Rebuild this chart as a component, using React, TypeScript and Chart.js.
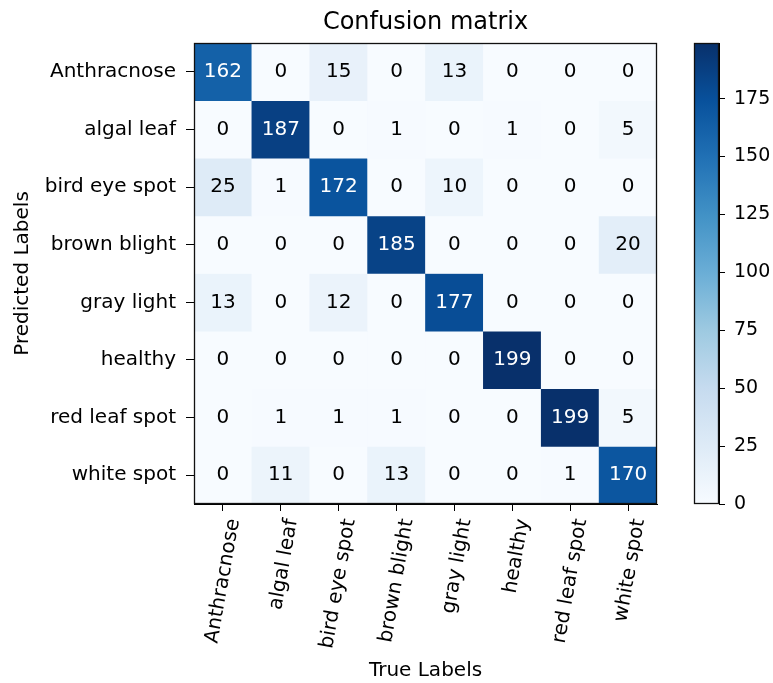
import React, { useEffect, useRef } from "react";
import { Chart, registerables } from "chart.js";

Chart.register(...registerables);

// ---------- data ----------
const trueLabels = [
  "Anthracnose",
  "algal leaf",
  "bird eye spot",
  "brown blight",
  "gray light",
  "healthy",
  "red leaf spot",
  "white spot",
];
const predictedLabels = [
  "Anthracnose",
  "algal leaf",
  "bird eye spot",
  "brown blight",
  "gray light",
  "healthy",
  "red leaf spot",
  "white spot",
];
const rowAnthracnose = [162, 0, 15, 0, 13, 0, 0, 0];
const rowAlgalLeaf = [0, 187, 0, 1, 0, 1, 0, 5];
const rowBirdEyeSpot = [25, 1, 172, 0, 10, 0, 0, 0];
const rowBrownBlight = [0, 0, 0, 185, 0, 0, 0, 20];
const rowGrayLight = [13, 0, 12, 0, 177, 0, 0, 0];
const rowHealthy = [0, 0, 0, 0, 0, 199, 0, 0];
const rowRedLeafSpot = [0, 1, 1, 1, 0, 0, 199, 5];
const rowWhiteSpot = [0, 11, 0, 13, 0, 0, 1, 170];
const matrixRows = [
  rowAnthracnose,
  rowAlgalLeaf,
  rowBirdEyeSpot,
  rowBrownBlight,
  rowGrayLight,
  rowHealthy,
  rowRedLeafSpot,
  rowWhiteSpot,
];
const colorbarMin = 0;
const colorbarMax = 199;
const colorbarTicks = [0, 25, 50, 75, 100, 125, 150, 175];

// ---------- styling ----------
const FONT = "'DejaVu Sans', sans-serif";
const BLUES: [number, number, number][] = [
  [247, 251, 255],
  [222, 235, 247],
  [198, 219, 239],
  [158, 202, 225],
  [107, 174, 214],
  [66, 146, 198],
  [33, 113, 181],
  [8, 81, 156],
  [8, 48, 107],
];

function blues(t: number): string {
  const tt = Math.max(0, Math.min(1, t));
  const pos = tt * (BLUES.length - 1);
  const i = Math.min(Math.floor(pos), BLUES.length - 2);
  const f = pos - i;
  const a = BLUES[i];
  const b = BLUES[i + 1];
  const c = a.map((v, k) => Math.round(v + (b[k] - v) * f));
  return `rgb(${c[0]},${c[1]},${c[2]})`;
}

const framePlugin = {
  id: "frame",
  afterDraw(chart: any) {
    const { ctx, chartArea } = chart;
    ctx.save();
    ctx.strokeStyle = "#111";
    ctx.lineWidth = 1.3;
    ctx.strokeRect(
      Math.round(chartArea.left) + 0.5,
      Math.round(chartArea.top) + 0.5,
      Math.round(chartArea.right - chartArea.left) - 1,
      Math.round(chartArea.bottom - chartArea.top) - 1
    );
    ctx.restore();
  },
};

const cellTextPlugin = {
  id: "cellText",
  afterDatasetsDraw(chart: any) {
    const ctx = chart.ctx;
    ctx.save();
    ctx.font = `20px ${FONT}`;
    ctx.textAlign = "center";
    ctx.textBaseline = "middle";
    chart.data.datasets.forEach((_ds: any, r: number) => {
      const meta = chart.getDatasetMeta(r);
      meta.data.forEach((el: any, c: number) => {
        const v = matrixRows[r][c];
        const { x, y, base } = el.getProps(["x", "y", "base"], true);
        ctx.fillStyle = v > colorbarMax / 2 ? "#ffffff" : "#000000";
        ctx.fillText(String(v), x, (y + base) / 2);
      });
    });
    ctx.restore();
  },
};

export default function App() {
  const mainRef = useRef<HTMLCanvasElement>(null);
  const barRef = useRef<HTMLCanvasElement>(null);

  useEffect(() => {
    const datasets = matrixRows.map((row, r) => ({
      label: predictedLabels[r],
      data: row.map(() => [r, r + 1]),
      backgroundColor: row.map((v) => blues((v - colorbarMin) / (colorbarMax - colorbarMin))),
      borderWidth: 0,
      barPercentage: 1,
      categoryPercentage: 1,
      grouped: false,
    }));

    const main = new Chart(mainRef.current as HTMLCanvasElement, {
      type: "bar",
      data: { labels: trueLabels, datasets: datasets as any },
      options: {
        responsive: false,
        animation: false,
        events: [],
        layout: { padding: { left: 0, right: 116, top: 0, bottom: 0 } },
        plugins: {
          legend: { display: false },
          tooltip: { enabled: false },
          title: { display: false },
        },
        scales: {
          x: {
            type: "category",
            position: "bottom",
            offset: true,
            grid: {
              display: true,
              drawOnChartArea: false,
              drawTicks: true,
              tickLength: 7,
              color: "#000",
              offset: false,
            },
            border: { display: true, color: "#000", width: 1 },
            ticks: {
              color: "#000",
              font: { family: FONT, size: 20 },
              maxRotation: 80,
              minRotation: 80,
              padding: 6,
              labelOffset: 11,
              autoSkip: false,
            },
            title: {
              display: true,
              text: "True Labels",
              color: "#000",
              font: { family: FONT, size: 20 },
              padding: { top: 0, bottom: 0 },
            },
            afterFit: (s: any) => {
              s.height = 179;
            },
          },
          x2: {
            type: "category",
            position: "top",
            labels: trueLabels,
            grid: { display: false },
            border: { display: false },
            ticks: { display: false },
            title: {
              display: true,
              text: "Confusion matrix",
              color: "#000",
              font: { family: FONT, size: 24 },
              padding: { top: 8, bottom: 0 },
            },
            afterFit: (s: any) => {
              s.height = 43;
            },
          },
          y: {
            type: "linear",
            position: "left",
            min: 0,
            max: predictedLabels.length,
            reverse: true,
            afterBuildTicks: (s: any) => {
              s.ticks = predictedLabels.map((_l, i) => ({ value: i + 0.5 }));
            },
            grid: {
              display: true,
              drawOnChartArea: false,
              drawTicks: true,
              tickLength: 8,
              color: "#000",
            },
            border: { display: true, color: "#000", width: 1 },
            ticks: {
              color: "#000",
              font: { family: FONT, size: 20 },
              padding: 10,
              autoSkip: false,
              callback: (_v: any, i: number) => predictedLabels[i],
            },
            title: {
              display: true,
              text: "Predicted Labels",
              color: "#000",
              font: { family: FONT, size: 20 },
              padding: { top: 11, bottom: 0 },
            },
            afterFit: (s: any) => {
              s.width = 194;
            },
          },
        },
      } as any,
      plugins: [cellTextPlugin, framePlugin],
    });

    const colorbar = new Chart(barRef.current as HTMLCanvasElement, {
      type: "bar",
      data: {
        labels: [""],
        datasets: [
          {
            data: [[colorbarMin, colorbarMax]] as any,
            backgroundColor: (c: any) => {
              const chart = c.chart;
              const y = chart.scales && chart.scales.y;
              if (!chart.chartArea || !y) return blues(0.5);
              const g = chart.ctx.createLinearGradient(
                0,
                y.getPixelForValue(colorbarMin),
                0,
                y.getPixelForValue(colorbarMax)
              );
              BLUES.forEach((col, i) => {
                g.addColorStop(i / (BLUES.length - 1), `rgb(${col[0]},${col[1]},${col[2]})`);
              });
              return g;
            },
            borderWidth: 0,
            barPercentage: 1,
            categoryPercentage: 1,
          },
        ],
      },
      options: {
        responsive: false,
        animation: false,
        events: [],
        layout: { padding: { left: 14, right: 0, top: 43, bottom: 179 } },
        plugins: { legend: { display: false }, tooltip: { enabled: false } },
        scales: {
          x: { display: false },
          y: {
            position: "right",
            min: colorbarMin,
            max: colorbarMax,
            afterBuildTicks: (s: any) => {
              s.ticks = colorbarTicks.map((v) => ({ value: v }));
            },
            grid: {
              display: true,
              drawOnChartArea: false,
              drawTicks: true,
              tickLength: 6,
              color: "#000",
            },
            border: { display: true, color: "#000", width: 1 },
            ticks: {
              color: "#000",
              font: { family: FONT, size: 19 },
              padding: 9,
            },
            afterFit: (s: any) => {
              s.width = 54;
            },
          },
        },
      } as any,
      plugins: [framePlugin],
    });

    return () => {
      main.destroy();
      colorbar.destroy();
    };
  }, []);

  return (
    <div
      style={{
        position: "absolute",
        left: 0,
        top: 0,
        width: 773,
        height: 683,
        background: "#ffffff",
        overflow: "hidden",
      }}
    >
      <canvas
        ref={mainRef}
        width={773}
        height={683}
        style={{ position: "absolute", left: 0, top: 0, width: 773, height: 683 }}
      />
      <canvas
        ref={barRef}
        width={93}
        height={683}
        style={{ position: "absolute", left: 680, top: 0, width: 93, height: 683 }}
      />
    </div>
  );
}
